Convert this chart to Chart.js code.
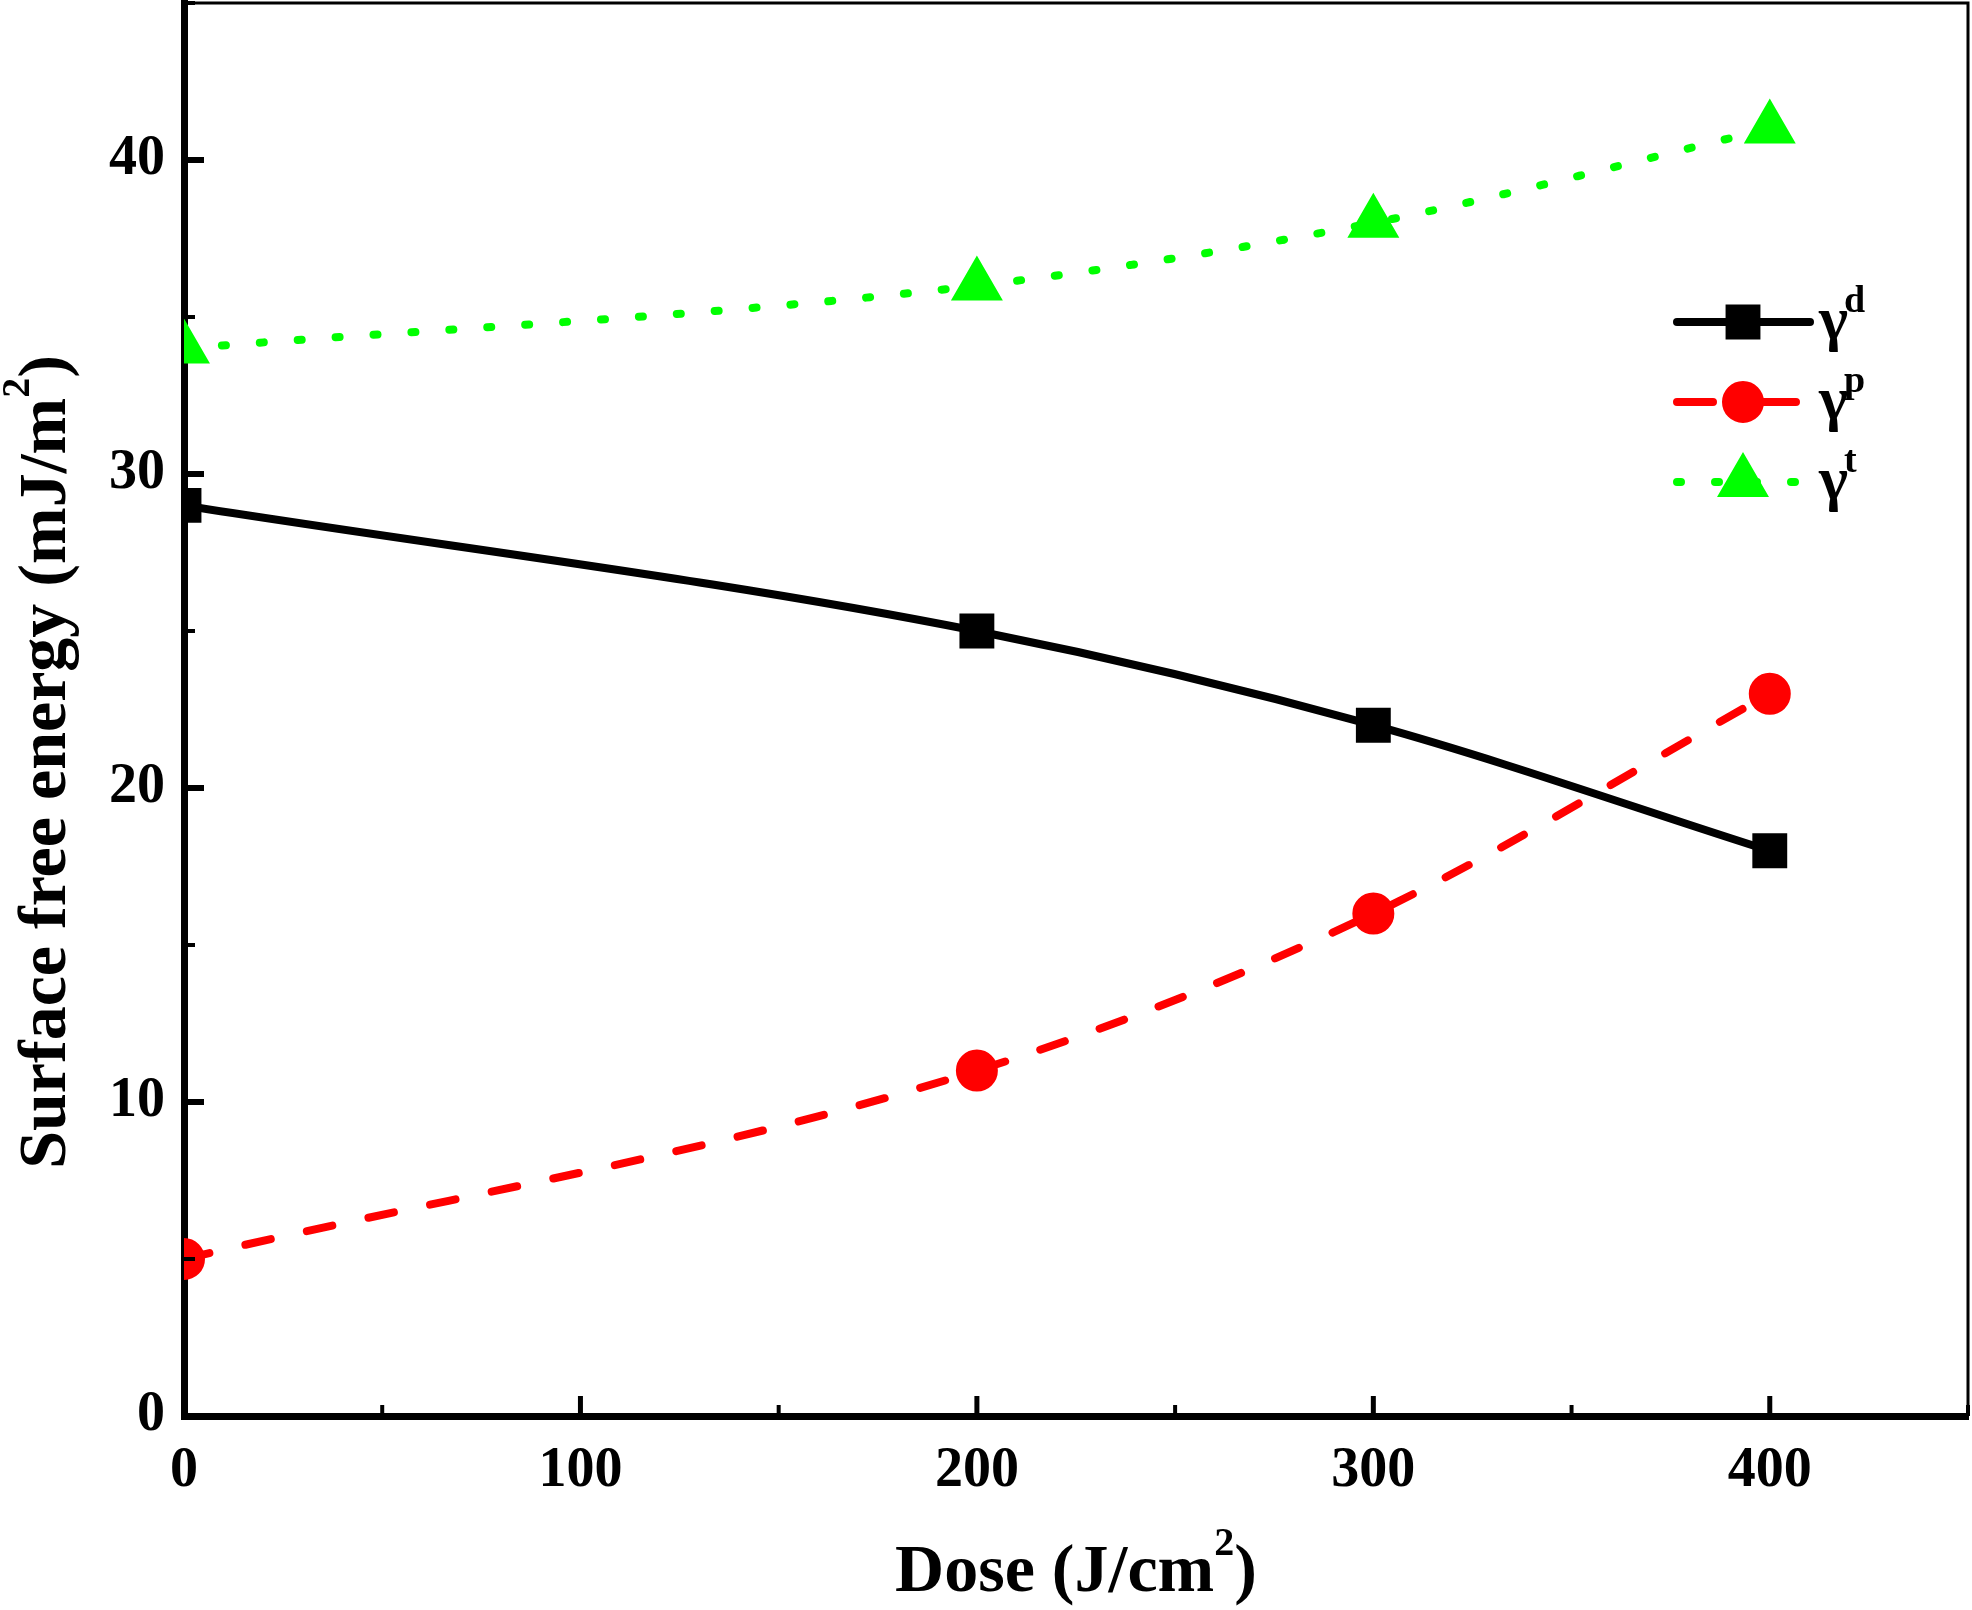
<!DOCTYPE html>
<html>
<head>
<meta charset="utf-8">
<title>Surface free energy vs dose</title>
<script src="https://cdn.jsdelivr.net/npm/chart.js@4.4.1/dist/chart.umd.min.js"></script>
<style>
  html, body { margin: 0; padding: 0; background: #fff; }
  canvas { display: block; }
</style>
</head>
<body>
<canvas id="sfeChart" width="1972" height="1610"></canvas>
<script>
// Data
const doses = [0, 200, 300, 400];
const gammaD = [29, 25, 22, 18];
const gammaP = [5, 11, 16, 23];
const gammaT = [34, 36, 38, 41];
const xTickLabels = [0, 100, 200, 300, 400];
const yTickLabels = [0, 10, 20, 30, 40];
const seriesSup = ['d', 'p', 't'];

const FONT = 'Liberation Serif, Times New Roman, serif';

function toPoints(ys) {
    return doses.map((x, i) => ({ x: x, y: ys[i] }));
}

// Inward ticks, the thin top/right frame, axis titles and the legend
const decorPlugin = {
    id: 'decor',
    afterDatasetsDraw(chart) {
        const ctx = chart.ctx;
        const area = chart.chartArea;
        const xs = chart.scales.x;
        const ys = chart.scales.y;

        ctx.save();
        ctx.strokeStyle = '#000';

        // top and right frame lines
        ctx.lineWidth = 3;
        ctx.beginPath();
        ctx.moveTo(area.left, area.top);
        ctx.lineTo(area.right, area.top);
        ctx.lineTo(area.right, area.bottom);
        ctx.stroke();

        // x ticks pointing up
        xs.ticks.forEach(t => {
            const px = xs.getPixelForValue(t.value);
            const major = t.value % 100 === 0;
            ctx.lineWidth = major ? 5 : 4;
            ctx.beginPath();
            ctx.moveTo(px, area.bottom);
            ctx.lineTo(px, area.bottom - (major ? 20 : 11));
            ctx.stroke();
        });

        // y ticks pointing right
        ys.ticks.forEach(t => {
            const py = ys.getPixelForValue(t.value);
            const major = t.value % 10 === 0;
            ctx.lineWidth = major ? 6 : 4;
            ctx.beginPath();
            ctx.moveTo(area.left, py);
            ctx.lineTo(area.left + (major ? 20 : 11), py);
            ctx.stroke();
        });
        ctx.restore();
    },
    afterDraw(chart) {
        const ctx = chart.ctx;
        const area = chart.chartArea;
        ctx.save();
        ctx.fillStyle = '#000';
        ctx.textBaseline = 'alphabetic';
        ctx.textAlign = 'left';

        // x axis title: Dose (J/cm2)
        const mainFont = 'bold 68px ' + FONT;
        const supFont = 'bold 40px ' + FONT;
        ctx.font = mainFont;
        const xa = 'Dose (J/cm';
        const wa = ctx.measureText(xa).width;
        const wc = ctx.measureText(')').width;
        ctx.font = supFont;
        const wb = ctx.measureText('2').width;
        let x0 = (area.left + area.right) / 2 - (wa + wb + wc) / 2;
        const base = 1591;
        ctx.font = mainFont;
        ctx.fillText(xa, x0, base);
        ctx.font = supFont;
        ctx.fillText('2', x0 + wa, base - 36);
        ctx.font = mainFont;
        ctx.fillText(')', x0 + wa + wb, base);

        // y axis title: Surface free energy (mJ/m2)
        ctx.save();
        ctx.translate(65, 762);
        ctx.rotate(-Math.PI / 2);
        ctx.font = mainFont;
        const ya = 'Surface free energy (mJ/m';
        const ywa = ctx.measureText(ya).width;
        let y0 = -(ywa + wb + wc) / 2;
        ctx.fillText(ya, y0, 0);
        ctx.font = supFont;
        ctx.fillText('2', y0 + ywa, -36);
        ctx.font = mainFont;
        ctx.fillText(')', y0 + ywa + wb, 0);
        ctx.restore();

        // legend
        const lx1 = area.right - 291, lx2 = area.right - 158, mx = area.right - 225;
        chart.data.datasets.forEach((ds, i) => {
            const ry = area.top + 319 + i * 80;
            ctx.save();
            ctx.strokeStyle = ds.borderColor;
            ctx.lineWidth = ds.borderWidth;
            ctx.lineCap = 'round';
            ctx.beginPath();
            if (ds.borderDash && ds.borderDash[0] > 10) {
                // dashed sample: one dash each side of the marker
                ctx.moveTo(lx1, ry);
                ctx.lineTo(mx - 30, ry);
                ctx.moveTo(mx + 18, ry);
                ctx.lineTo(lx2 - 14, ry);
            } else {
                ctx.setLineDash(ds.borderDash || []);
                ctx.moveTo(lx1, ry);
                ctx.lineTo(lx2, ry);
            }
            ctx.stroke();
            ctx.setLineDash([]);
            ctx.fillStyle = ds.pointBackgroundColor;
            ctx.strokeStyle = ds.pointBorderColor;
            Chart.helpers.drawPoint(ctx, {
                pointStyle: ds.pointStyle,
                radius: ds.pointRadius,
                rotation: 0,
                borderWidth: 1
            }, mx, ry);
            ctx.restore();

            ctx.font = 'bold 62px ' + FONT;
            ctx.fillText('\u03b3', area.right - 149, ry + 17);
            ctx.font = 'bold 38px ' + FONT;
            ctx.fillText(seriesSup[i], area.right - 124, ry - 10);
        });
        ctx.restore();
    }
};

const tickFont = { family: FONT, size: 56, weight: 'bold' };

const ctx = document.getElementById('sfeChart').getContext('2d');
new Chart(ctx, {
    type: 'line',
    data: {
        datasets: [
            {
                label: 'γd',
                data: toPoints(gammaD),
                borderColor: '#000000',
                borderWidth: 8,
                pointStyle: 'rect',
                pointRadius: 19,
                pointBackgroundColor: '#000000',
                pointBorderColor: '#000000',
                cubicInterpolationMode: 'monotone',
                clip: 0
            },
            {
                label: 'γp',
                data: toPoints(gammaP),
                borderColor: '#ff0000',
                borderWidth: 8,
                borderDash: [26, 37],
                borderCapStyle: 'round',
                pointStyle: 'circle',
                pointRadius: 17,
                pointBackgroundColor: '#ff0000',
                pointBorderColor: '#ff0000',
                cubicInterpolationMode: 'monotone',
                clip: 0
            },
            {
                label: 'γt',
                data: toPoints(gammaT),
                borderColor: '#00ff00',
                borderWidth: 8,
                borderDash: [4, 34],
                borderCapStyle: 'round',
                pointStyle: 'triangle',
                pointRadius: 22,
                pointBackgroundColor: '#00ff00',
                pointBorderColor: '#00ff00',
                cubicInterpolationMode: 'monotone',
                clip: 0
            }
        ]
    },
    options: {
        responsive: false,
        animation: false,
        layout: { autoPadding: false, padding: { top: 3, right: 4, left: 0, bottom: 0 } },
        plugins: {
            legend: { display: false },
            tooltip: { enabled: false }
        },
        scales: {
            x: {
                type: 'linear',
                min: 0,
                max: 450,
                afterFit: scale => {
                    scale.height = 194;
                    scale.paddingLeft = 0;
                    scale.paddingRight = 0;
                },
                ticks: {
                    stepSize: 50,
                    autoSkip: false,
                    maxRotation: 0,
                    padding: 22,
                    color: '#000',
                    font: tickFont,
                    callback: v => xTickLabels.includes(v) ? String(v) : ''
                },
                grid: { display: true, drawOnChartArea: false, drawTicks: false },
                border: { display: true, color: '#000', width: 7 }
            },
            y: {
                type: 'linear',
                min: 0,
                max: 45,
                afterFit: scale => {
                    scale.width = 184;
                    scale.paddingTop = 0;
                    scale.paddingBottom = 0;
                },
                ticks: {
                    stepSize: 5,
                    autoSkip: false,
                    padding: 19,
                    color: '#000',
                    font: tickFont,
                    callback: v => yTickLabels.includes(v) ? String(v) : ''
                },
                grid: { display: true, drawOnChartArea: false, drawTicks: false },
                border: { display: true, color: '#000', width: 7 }
            }
        }
    },
    plugins: [decorPlugin]
});
</script>
</body>
</html>
